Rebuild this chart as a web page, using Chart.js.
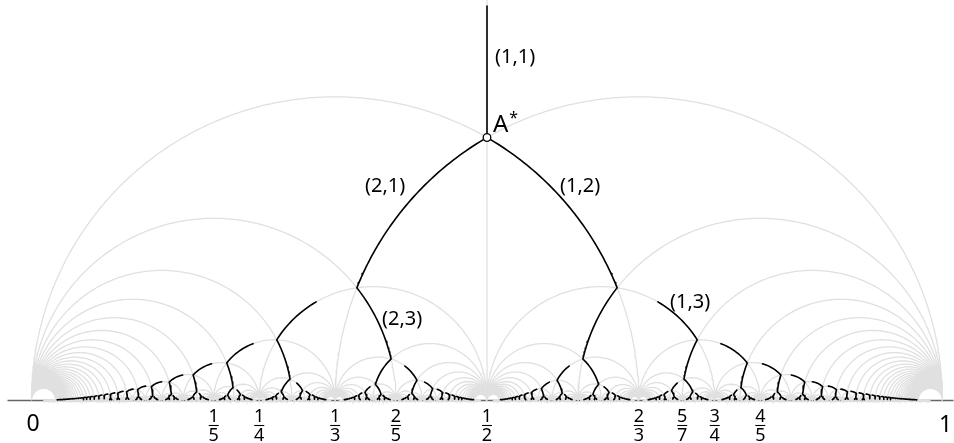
<!DOCTYPE html>
<html>
<head>
<meta charset="utf-8">
<script src="https://cdn.jsdelivr.net/npm/chart.js@4.4.1/dist/chart.umd.min.js"></script>
<style>
  html, body { margin: 0; padding: 0; background: #fff; }
  #wrap { width: 954px; height: 443px; }
</style>
</head>
<body>
<div id="wrap"><canvas id="chart"></canvas></div>
<script>
// fractions written under the axis
const tickFractions = [[1, 5], [1, 4], [1, 3], [2, 5], [1, 2], [2, 3], [5, 7], [3, 4], [4, 5]];
const endLabels = ["0", "1"];
// Farey edges (p/q, r/s) crossed by the labelled tree edges
const labelledEdges = [[0, 1, 1, 1], [0, 1, 1, 2], [1, 2, 1, 1], [1, 3, 1, 2], [2, 3, 1, 1]];
const edgeLabels = ["(1,1)", "(2,1)", "(1,2)", "(2,3)", "(1,3)"];
const rootLabel = "A";
// how far the subdivision goes (largest denominator)
const maxDenGray = 75;
const maxDenTree = 36;
// share of a tree edge drawn when the tree turns the same way twice
const partialShare = 0.63;

const PX = 911; // pixels per unit, used only to choose sample counts
const S3 = Math.sqrt(3) / 2;

const xMin = -31.5 / PX, xMax = 1 + 11.5 / PX;
const yMax = 400.5 / PX, yMin = -42.5 / PX;

// centre of the Farey triangle (p/q, (p+r)/(q+s), r/s)
function centre(p, q, r, s) {
  const ax = r * 0.5 + p, ay = r * S3;
  const bx = s * 0.5 + q, by = s * S3;
  const d = bx * bx + by * by;
  return { x: (ax * bx + ay * by) / d, y: (ay * bx - ax * by) / d };
}

// points along the geodesic from P1 towards P2, between shares f0 and f1
function geodesic(P1, P2, f0, f1, out) {
  if (Math.abs(P1.x - P2.x) < 1e-12) {
    const u1 = Math.log(P1.y), u2 = Math.log(P2.y);
    const a = u1 + f0 * (u2 - u1), b = u1 + f1 * (u2 - u1);
    const n = 40;
    for (let i = 0; i <= n; i++) {
      out.push({ x: P1.x, y: Math.exp(a + (b - a) * i / n) });
    }
  } else {
    const c = (P2.x * P2.x + P2.y * P2.y - P1.x * P1.x - P1.y * P1.y) / (2 * (P2.x - P1.x));
    const R = Math.hypot(P1.x - c, P1.y);
    const t1 = Math.atan2(P1.y, P1.x - c), t2 = Math.atan2(P2.y, P2.x - c);
    const u1 = Math.log(Math.tan(t1 / 2)), u2 = Math.log(Math.tan(t2 / 2));
    const a = u1 + f0 * (u2 - u1), b = u1 + f1 * (u2 - u1);
    const ta = 2 * Math.atan(Math.exp(a)), tb = 2 * Math.atan(Math.exp(b));
    const n = Math.max(3, Math.min(80, Math.ceil(R * Math.abs(tb - ta) * PX / 3)));
    for (let i = 0; i <= n; i++) {
      const t = 2 * Math.atan(Math.exp(a + (b - a) * i / n));
      out.push({ x: c + R * Math.cos(t), y: R * Math.sin(t) });
    }
  }
  out.push({ x: null, y: null });
}

// grey lines: the geodesic across every Farey edge, through its two opposite vertices
const grayPts = [];
function grayEdges(p, q, r, s) {
  if (q + s > maxDenGray) return;
  const A = (p + r) / (q + s);
  if (q === s) {
    grayPts.push({ x: A, y: 0 }, { x: A, y: 1 }, { x: null, y: null });
  } else {
    const B = (p - r) / (q - s);
    const c = (A + B) / 2, R = Math.abs(A - B) / 2;
    const n = Math.max(4, Math.min(220, Math.ceil(Math.PI * R * PX / 3)));
    for (let i = 0; i <= n; i++) {
      const t = Math.PI * i / n;
      grayPts.push({ x: c + R * Math.cos(t), y: R * Math.sin(t) });
    }
    grayPts.push({ x: null, y: null });
  }
  grayEdges(p, q, p + r, q + s);
  grayEdges(p + r, q + s, r, s);
}
grayEdges(0, 1, 1, 1);

// black tree: dual of the Farey tessellation
const treePts = [];
const rootCentre = centre(0, 1, 1, 1);
geodesic({ x: 0.5, y: yMax - 6 / PX }, rootCentre, 0, 1, treePts);
function grow(p, q, r, s, inDir) {
  const C = centre(p, q, r, s);
  const kids = [["L", p, q, p + r, q + s], ["R", p + r, q + s, r, s]];
  kids.forEach(k => {
    const [dir, a, b, c, d] = k;
    if (b + d > maxDenTree) return;
    const K = centre(a, b, c, d);
    if (dir !== inDir) geodesic(C, K, 0, 1, treePts);
    else geodesic(K, C, 0, partialShare, treePts);
    grow(a, b, c, d, dir);
  });
}
grow(0, 1, 1, 1, null);

const labelPlugin = {
  id: "labels",
  afterDatasetsDraw(chart) {
    const ctx = chart.ctx, xs = chart.scales.x, ys = chart.scales.y;
    const X = v => xs.getPixelForValue(v), Y = v => ys.getPixelForValue(v);
    ctx.save();
    ctx.fillStyle = "#000";

    // tree edge labels, left edge of text and vertical middle in data units
    const spots = [[0.5088, 0.377], [0.3661, 0.2355], [0.5801, 0.2355], [0.3847, 0.0895], [0.7009, 0.1081]];
    ctx.font = "20px 'Noto Sans'";
    ctx.textAlign = "left";
    ctx.textBaseline = "middle";
    edgeLabels.forEach((t, i) => ctx.fillText(t, X(spots[i][0]), Y(spots[i][1])));

    // A*
    ctx.textBaseline = "alphabetic";
    ctx.font = "24px 'Noto Sans'";
    const ax = X(0.5066), ay = Y(0.2947);
    ctx.fillText(rootLabel, ax, ay);
    const w = ctx.measureText(rootLabel).width;
    ctx.font = "16px 'Noto Sans'";
    ctx.fillText("*", ax + w + 1, ay - 9);

    // 0 and 1
    ctx.font = "23px 'Noto Sans'";
    ctx.textAlign = "center";
    ctx.fillText(endLabels[0], X(0) + 1.5, 430.5);
    ctx.fillText(endLabels[1], X(1) + 3, 431.5);

    // fractions
    ctx.font = "18px 'Noto Sans'";
    ctx.strokeStyle = "#000";
    ctx.lineWidth = 1.1;
    tickFractions.forEach(([n, d]) => {
      const x = X(n / d);
      ctx.fillText(String(n), x, 422);
      ctx.beginPath();
      ctx.moveTo(x - 5, 425.5);
      ctx.lineTo(x + 5, 425.5);
      ctx.stroke();
      ctx.fillText(String(d), x, 440.5);
    });
    ctx.restore();
  }
};

new Chart(document.getElementById("chart"), {
  type: "scatter",
  data: {
    datasets: [
      {
        data: [{ x: rootCentre.x, y: rootCentre.y }],
        pointRadius: 3.8,
        pointBackgroundColor: "#fff",
        pointBorderColor: "#000",
        pointBorderWidth: 1.3,
        order: 0
      },
      {
        data: treePts,
        showLine: true,
        pointRadius: 0,
        borderColor: "#000",
        borderWidth: 1.6,
        borderJoinStyle: "round",
        borderCapStyle: "round",
        order: 1
      },
      {
        data: grayPts,
        showLine: true,
        pointRadius: 0,
        borderColor: "#e0e0e0",
        borderWidth: 1.3,
        order: 2
      },
      {
        data: [{ x: -24 / PX, y: 0 }, { x: 1 + 11 / PX, y: 0 }],
        showLine: true,
        pointRadius: 0,
        borderColor: "#666",
        borderWidth: 1.6,
        order: 3
      }
    ]
  },
  options: {
    responsive: true,
    maintainAspectRatio: false,
    animation: false,
    events: [],
    layout: { padding: 0, autoPadding: false },
    plugins: { legend: { display: false }, tooltip: { enabled: false } },
    elements: { line: { tension: 0 } },
    scales: {
      x: { type: "linear", min: xMin, max: xMax, display: false },
      y: { type: "linear", min: yMin, max: yMax, display: false }
    }
  },
  plugins: [labelPlugin]
});
</script>
</body>
</html>
